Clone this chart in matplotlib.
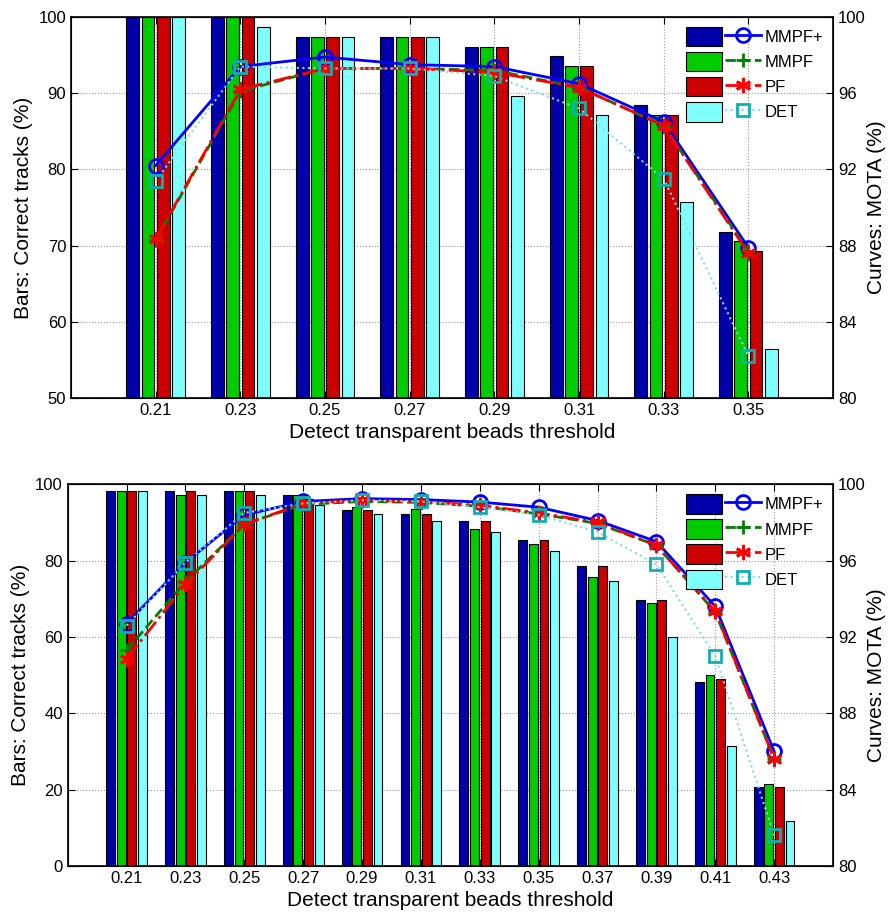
import numpy as np
from matplotlib import pyplot as plt
from matplotlib.legend_handler import HandlerTuple

plt.rcParams["font.family"] = ["Liberation Sans", "DejaVu Sans"]

series = ["MMPF+", "MMPF", "PF", "DET"]

# top panel
top_thresholds = ["0.21", "0.23", "0.25", "0.27", "0.29", "0.31", "0.33", "0.35"]
top_bars = {
    "MMPF+": [100, 100, 97.4, 97.4, 96.1, 94.9, 88.5, 71.8],
    "MMPF": [100, 100, 97.4, 97.4, 96.1, 93.6, 87.1, 70.6],
    "PF": [100, 100, 97.4, 97.4, 96.1, 93.6, 87.1, 69.3],
    "DET": [100, 98.7, 97.4, 97.4, 89.7, 87.1, 75.7, 56.4],
}
top_mota = {
    "MMPF+": [92.2, 97.4, 97.9, 97.5, 97.4, 96.5, 94.5, 87.9],
    "MMPF": [88.3, 96.1, 97.3, 97.3, 97.2, 96.3, 94.3, 87.7],
    "PF": [88.35, 96.2, 97.3, 97.3, 97.1, 96.3, 94.3, 87.6],
    "DET": [91.4, 97.4, 97.3, 97.3, 96.9, 95.2, 91.5, 82.2],
}

# bottom panel
bot_thresholds = ["0.21", "0.23", "0.25", "0.27", "0.29", "0.31",
                  "0.33", "0.35", "0.37", "0.39", "0.41", "0.43"]
bot_bars = {
    "MMPF+": [98.2, 98.2, 98.2, 97.2, 93.2, 92.3, 90.3, 85.5, 78.6, 69.7, 48.1, 20.6],
    "MMPF": [98.2, 97.3, 98.2, 97.2, 94.1, 93.4, 88.4, 84.4, 75.7, 68.8, 50.0, 21.6],
    "PF": [98.2, 98.2, 98.2, 96.1, 93.2, 92.3, 90.3, 85.5, 78.6, 69.7, 49.0, 20.6],
    "DET": [98.2, 97.3, 97.3, 94.6, 92.2, 90.3, 87.5, 82.5, 74.6, 60.0, 31.4, 11.8],
}
bot_mota = {
    "MMPF+": [92.7, 95.9, 98.4, 99.1, 99.25, 99.2, 99.07, 98.8, 98.1, 97.0, 93.6, 86.0],
    "MMPF": [91.3, 94.9, 97.9, 98.95, 99.1, 99.05, 98.85, 98.45, 97.95, 96.8, 93.3, 85.6],
    "PF": [90.85, 94.75, 97.9, 99.0, 99.16, 99.09, 98.9, 98.5, 98.0, 96.8, 93.35, 85.6],
    "DET": [92.6, 95.9, 98.5, 99.0, 99.16, 99.1, 98.8, 98.4, 97.5, 95.8, 91.0, 81.6],
}

bar_colors = {"MMPF+": "#0000AA", "MMPF": "#00CC00", "PF": "#CC0000", "DET": "#80FFFF"}
line_styles = {
    "MMPF+": dict(color="#0000FF", ls="-", marker="o", mfc="none", ms=10, mew=2, lw=2),
    "MMPF": dict(color="#007F00", ls="--", marker="+", ms=10, mew=2, lw=2),
    "PF": dict(color="#FF0000", ls="-.", marker=(6, 2, 0), ms=11, mew=2, lw=2),
    "DET": dict(color="#80E0E0", ls=":", marker="s", mfc="none", mec="#10B0B0",
                ms=9, mew=2, lw=1.5),
}


def panel(fig, rect, labels, bars, mota, ylim, yticks):
    ax = fig.add_axes(rect)
    n = len(labels)
    x = np.arange(1, n + 1)
    patches = []
    for i, name in enumerate(series):
        b = ax.bar(x + (i - 1.5) * 0.18, bars[name], width=0.15,
                   color=bar_colors[name], edgecolor="black", linewidth=0.8)
        patches.append(b.patches[0])
    ax.set_xlim(0, n + 1)
    ax.set_ylim(*ylim)
    ax.set_yticks(yticks)
    ax.set_xticks(x)
    ax.set_xticklabels(labels)
    ax.set_axisbelow(True)
    ax.grid(True, ls=":", color="#999999", lw=0.8)
    ax.tick_params(direction="in", labelsize=12, top=True, length=5)
    ax.set_ylabel("Bars: Correct tracks (%)", fontsize=15)
    ax.set_xlabel("Detect transparent beads threshold", fontsize=15, labelpad=4)
    for s in ax.spines.values():
        s.set_linewidth(1.2)

    ax2 = ax.twinx()
    lines = []
    for name in series:
        (ln,) = ax2.plot(x, mota[name], **line_styles[name])
        lines.append(ln)
    ax2.set_ylim(80, 100)
    ax2.set_yticks([80, 84, 88, 92, 96, 100])
    ax2.tick_params(direction="in", labelsize=12, length=5)
    ax2.set_ylabel("Curves: MOTA (%)", fontsize=15, labelpad=1)
    ax2.set_xlim(0, n + 1)

    ax2.legend([(p, l) for p, l in zip(patches, lines)], series,
               handler_map={tuple: HandlerTuple(ndivide=None, pad=0.2)},
               loc="upper right", frameon=False, fontsize=12,
               handlelength=4.5, handleheight=1.4, handletextpad=0.2,
               labelspacing=0.35, borderaxespad=0.2)
    return ax, ax2


fig = plt.figure(figsize=(8.92, 9.15), dpi=100)
panel(fig, [0.0796, 0.565, 0.8543, 0.4164], top_thresholds, top_bars, top_mota,
      (50, 100), [50, 60, 70, 80, 90, 100])
panel(fig, [0.0759, 0.0536, 0.8580, 0.4171], bot_thresholds, bot_bars, bot_mota,
      (0, 100), [0, 20, 40, 60, 80, 100])

fig.savefig("out.png", dpi=100)
